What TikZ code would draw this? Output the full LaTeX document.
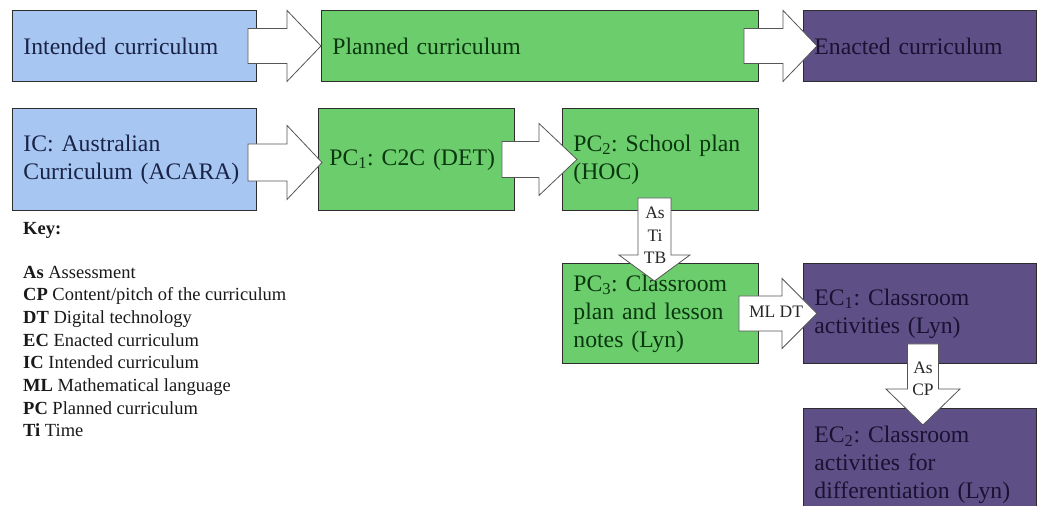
\documentclass[tikz,border=0pt]{standalone}
\usepackage{fontspec}
\setmainfont{Liberation Serif}
\usetikzlibrary{calc}
\frenchspacing

\definecolor{icblue}{RGB}{168,198,242}
\definecolor{pcgreen}{RGB}{108,205,108}
\definecolor{ecpurple}{RGB}{94,80,134}
\definecolor{icink}{RGB}{25,35,70}
\definecolor{pcink}{RGB}{10,55,15}
\definecolor{ecink}{RGB}{25,18,50}
\definecolor{boxedge}{RGB}{45,45,45}
\definecolor{arrowedge}{RGB}{85,85,85}

% right-pointing block arrow: shaft starts at x of #1, tip at #2
\newcommand\rightblock[5]{%
  \draw[blockarrow] let \p1=#1, \p2=#2 in
    (\x1,\y2+#3) -- (\x2-#5,\y2+#3) -- (\x2-#5,\y2+#4) -- (\x2,\y2)
    -- (\x2-#5,\y2-#4) -- (\x2-#5,\y2-#3) -- (\x1,\y2-#3) -- cycle;}
% downward block arrow: shaft starts at y of #1, tip at #2
\newcommand\downblock[5]{%
  \draw[blockarrow] let \p1=#1, \p2=#2 in
    (\x2-#3,\y1) -- (\x2-#3,\y2+#5) -- (\x2-#4,\y2+#5) -- (\x2,\y2)
    -- (\x2+#4,\y2+#5) -- (\x2+#3,\y2+#5) -- (\x2+#3,\y1) -- cycle;}

\begin{document}
\begin{tikzpicture}[x=1pt,y=-1pt,
  box/.style={draw=boxedge, line width=0.9, anchor=north west, inner xsep=11,
    inner ysep=0, align=left, font=\fontsize{23.7}{28}\selectfont},
  icbox/.style={box, fill=icblue, text=icink},
  pcbox/.style={box, fill=pcgreen, text=pcink},
  ecbox/.style={box, fill=ecpurple, text=ecink},
  blockarrow/.style={draw=arrowedge, fill=white, line width=0.8, line join=miter},
  lbl/.style={align=center, inner sep=0, text=black!85,
    font=\fontsize{17.5}{22.5}\selectfont},
  keyline/.style={anchor=base west, inner sep=0, text=black!90,
    font=\fontsize{18.5}{22.7}\selectfont}]
\useasboundingbox (0,0) rectangle (1037,506);
\clip (0,0) rectangle (1037,506);

% top row: the three stages
\node[icbox, text width=222, minimum height=71] (ic) at (12,10) {Intended curriculum};
\node[pcbox, text width=415, minimum height=71] (pc) at (321,10) {Planned curriculum};
\node[ecbox, text width=211, minimum height=71] (ec) at (803,10) {Enacted curriculum};

% detailed flow
\node[icbox, text width=222, minimum height=102] (ic2) at (12,108) {IC: Australian\\Curriculum (ACARA)};
\node[pcbox, text width=174, minimum height=102] (pc1) at (318,108) {PC\textsubscript{1}: C2C (DET)};
\node[pcbox, text width=174, minimum height=102] (pc2) at (562,108) {PC\textsubscript{2}: School plan\\(HOC)};
\node[pcbox, text width=174, minimum height=100] (pc3) at (562,263) {PC\textsubscript{3}: Classroom\\plan and lesson\\notes (Lyn)};
\node[ecbox, text width=211, minimum height=100] (ec1) at (803,263) {EC\textsubscript{1}: Classroom\\activities (Lyn)};
\node[ecbox, text width=211, minimum height=113] (ec2) at (803,408) {EC\textsubscript{2}: Classroom\\activities for\\differentiation (Lyn)};

% block arrows
\rightblock{($(ic.east)+(-9,0)$)}{(pc.west)}{17.5}{35.5}{34}
\rightblock{($(pc.east)+(-15,0)$)}{($(ec.west)+(14,0)$)}{17.5}{35.5}{34}
\rightblock{($(ic2.east)+(-9,0)$)}{($(pc1.west)+(4,3)$)}{18.5}{37}{35}
\rightblock{($(pc1.east)+(-13,0)$)}{($(pc2.west)+(15,0)$)}{18}{36}{38}
\downblock{($(pc2.south)+(-6,-13)$)}{($(pc3.north)+(-6,18)$)}{16.5}{35.5}{26}
\rightblock{($(pc3.east)+(-20,0)$)}{($(ec1.west)+(14,0)$)}{17.5}{35}{35}
\downblock{($(ec1.south)+(3,-20)$)}{($(ec2.north)+(3,17)$)}{15.5}{37}{36}

% arrow labels
\node[lbl] (l1) at (655,235.5) {As\\Ti\\TB};
\node[lbl] (l2) at (776,312) {ML DT};
\node[lbl] (l3) at (923,379) {As\\CP};

% key
\node[keyline] (keyt) at (23,234) {\textbf{Key:}};
\foreach \ab/\txt [count=\i from 0] in {As/Assessment, CP/Content\slash pitch of the curriculum,
    DT/Digital technology, EC/Enacted curriculum, IC/Intended curriculum,
    ML/Mathematical language, PC/Planned curriculum, Ti/Time}
  \node[keyline] (k\i) at (23,278+22.7*\i) {\textbf{\ab} \txt};
\end{tikzpicture}
\end{document}
